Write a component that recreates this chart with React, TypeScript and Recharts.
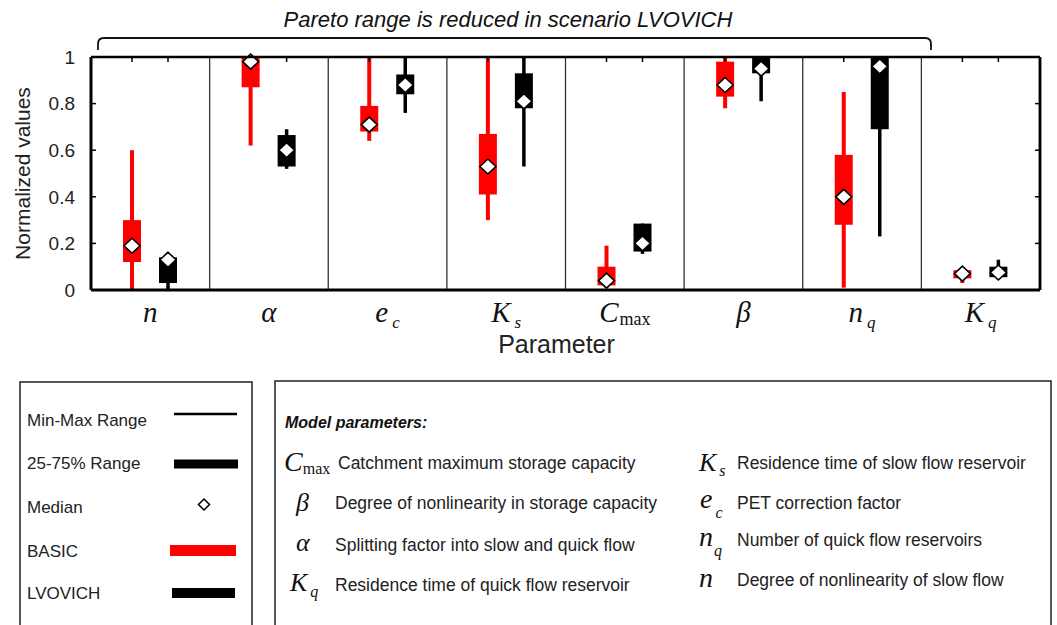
import React from 'react';
import { ComposedChart, Bar, XAxis, YAxis, ReferenceLine } from 'recharts';

// ---- Data ----
const params = ['n', 'alpha', 'ec', 'Ks', 'Cmax', 'beta', 'nq', 'Kq'];
const tickMain = ['n', 'α', 'e', 'K', 'C', 'β', 'n', 'K'];
const tickSub = ['', '', 'c', 's', 'max', '', 'q', 'q'];

const basicMin = [0.0, 0.62, 0.64, 0.3, 0.01, 0.78, 0.01, 0.03];
const basicQ1 = [0.12, 0.87, 0.68, 0.41, 0.02, 0.83, 0.28, 0.05];
const basicMed = [0.19, 0.98, 0.71, 0.53, 0.04, 0.88, 0.4, 0.07];
const basicQ3 = [0.3, 1.0, 0.79, 0.67, 0.1, 0.98, 0.58, 0.085];
const basicMax = [0.6, 1.0, 1.0, 1.0, 0.19, 1.0, 0.85, 0.085];

const lvMin = [0.0, 0.52, 0.76, 0.53, 0.155, 0.81, 0.23, 0.045];
const lvQ1 = [0.03, 0.53, 0.84, 0.78, 0.165, 0.93, 0.69, 0.055];
const lvMed = [0.13, 0.6, 0.88, 0.81, 0.2, 0.95, 0.96, 0.075];
const lvQ3 = [0.14, 0.665, 0.925, 0.93, 0.285, 1.0, 1.0, 0.1];
const lvMax = [0.14, 0.69, 1.0, 1.0, 0.285, 1.0, 1.0, 0.13];

const yTicks = [0, 0.2, 0.4, 0.6, 0.8, 1];

const data = params.map((p, i) => ({
  param: p,
  bW: [basicMin[i], basicMax[i]],
  lW: [lvMin[i], lvMax[i]],
  bB: [basicQ1[i], basicQ3[i]],
  lB: [lvQ1[i], lvQ3[i]],
  bM: basicMed[i],
  lM: lvMed[i],
}));

const separators = params.slice(1);
const lastParam = params[params.length - 1];

const RED = '#ff0000';
const SANS = 'Liberation Sans, Arial, sans-serif';
const SERIF = 'Liberation Serif, Times New Roman, serif';

// ---- Shapes ----
const whiskerShape = (color: string, w: number) => (props: any) => {
  const { x, y, width, height, background } = props;
  const cx = x + width / 2;
  const top = Math.min(y, y + height);
  const h = Math.abs(height);
  return (
    <g>
      <rect x={cx - w / 2} y={top} width={w} height={h} fill={color} />
      {background ? (
        <line x1={cx} x2={cx} y1={background.y} y2={background.y + 5} stroke="#000" strokeWidth={1.5} />
      ) : null}
    </g>
  );
};

const boxShape = (color: string) => (props: any) => {
  const { x, y, width, height } = props;
  const top = Math.min(y, y + height);
  const h = Math.abs(height);
  return <rect x={x} y={top} width={width} height={h} fill={color} />;
};

const diamondShape = (props: any) => {
  const { x, y, width } = props;
  const cx = x + width / 2;
  const rx = 8;
  const ry = 7.5;
  return (
    <path
      d={`M${cx},${y - ry} L${cx + rx},${y} L${cx},${y + ry} L${cx - rx},${y} Z`}
      fill="#fff"
      stroke="#000"
      strokeWidth={1.6}
    />
  );
};

const ParamTick = (props: any) => {
  const { x, y, payload } = props;
  const i = params.indexOf(payload.value);
  const main = tickMain[i];
  const sub = tickSub[i];
  const upright = sub === 'max';
  return (
    <text x={x} y={y + 32} textAnchor="middle" fontFamily={SERIF} fill="#111">
      <tspan fontStyle="italic" fontSize={29}>{main}</tspan>
      {sub ? (
        <tspan fontStyle={upright ? 'normal' : 'italic'} fontSize={upright ? 18 : 17} dx={upright ? 1 : 4} dy={upright ? 3 : 6}>
          {sub}
        </tspan>
      ) : null}
    </text>
  );
};

const YLabel = (props: any) => {
  const vb = props.viewBox || { x: 0, y: 57, width: 91, height: 233 };
  return (
    <text
      transform={`translate(${vb.x + 30},${vb.y + vb.height / 2}) rotate(-90)`}
      textAnchor="middle"
      fontSize={21}
      fill="#222"
      fontFamily={SANS}
    >
      Normalized values
    </text>
  );
};

const XLabel = (props: any) => {
  const vb = props.viewBox || { x: 91, y: 290, width: 949, height: 70 };
  return (
    <text x={vb.x + vb.width / 2 - 9} y={vb.y + 63} textAnchor="middle" fontSize={25} fill="#222" fontFamily={SANS}>
      Parameter
    </text>
  );
};

// ---- Legend pieces ----
const Sym = ({ x, y, main, sub, size = 26, subDx = 2, subDy = 5, upright = false }: any) => (
  <text x={x} y={y} fontFamily={SERIF} fill="#111">
    <tspan fontStyle="italic" fontSize={size}>{main}</tspan>
    {sub ? (
      <tspan fontStyle={upright ? 'normal' : 'italic'} fontSize={16} dx={subDx} dy={subDy}>
        {sub}
      </tspan>
    ) : null}
  </text>
);

const Desc = ({ x, y, children }: any) => (
  <text x={x} y={y} fontFamily={SANS} fontSize={17.5} fill="#222">
    {children}
  </text>
);

const EmptyTick = () => <g />;

export default function App() {
  return (
    <div style={{ position: 'absolute', left: 0, top: 0, width: 1057, height: 625, overflow: 'hidden', background: '#fff' }}>
      <div style={{ position: 'absolute', left: 0, top: 0 }}>
        <ComposedChart width={1057} height={370} data={data} margin={{ top: 57, right: 17, bottom: 10, left: 0 }} barGap={18}>
          <XAxis
            xAxisId="m"
            dataKey="param"
            height={70}
            interval={0}
            tickLine={false}
            tickSize={0}
            tickMargin={0}
            axisLine={{ stroke: '#000', strokeWidth: 3 }}
            tick={<ParamTick />}
            label={{ content: (p: any) => <XLabel {...p} /> }}
          />
          <XAxis xAxisId="w" dataKey="param" hide height={0} />
          <XAxis
            xAxisId="t"
            dataKey="param"
            orientation="top"
            mirror
            height={0}
            tick={<EmptyTick />}
            tickLine={false}
            axisLine={{ stroke: '#000', strokeWidth: 2.5 }}
          />
          <YAxis
            domain={[0, 1]}
            ticks={yTicks}
            width={91}
            tickLine={false}
            tickSize={6}
            tickMargin={10}
            axisLine={{ stroke: '#000', strokeWidth: 3 }}
            tick={{ fontSize: 19, fill: '#222', fontFamily: SANS }}
            label={{ content: (p: any) => <YLabel {...p} /> }}
          />
          <YAxis
            yAxisId="yl"
            mirror
            domain={[0, 1]}
            ticks={yTicks}
            tick={<EmptyTick />}
            tickSize={5}
            tickLine={{ stroke: '#000', strokeWidth: 1.5 }}
            axisLine={false}
          />
          <YAxis
            yAxisId="yr"
            orientation="right"
            mirror
            domain={[0, 1]}
            ticks={yTicks}
            tick={<EmptyTick />}
            tickSize={5}
            tickLine={{ stroke: '#000', strokeWidth: 1.5 }}
            axisLine={{ stroke: '#000', strokeWidth: 2.5 }}
          />

          {separators.map((p) => (
            <ReferenceLine key={p} xAxisId="m" x={p} position="start" stroke="#333" strokeWidth={1.3} />
          ))}

          <Bar xAxisId="w" yAxisId="yl" dataKey="bW" barSize={18} shape={whiskerShape(RED, 4)} isAnimationActive={false} />
          <Bar xAxisId="w" yAxisId="yl" dataKey="lW" barSize={18} shape={whiskerShape('#000', 3.5)} isAnimationActive={false} />
          <Bar xAxisId="t" yAxisId="yr" dataKey="bB" barSize={18} shape={boxShape(RED)} isAnimationActive={false} />
          <Bar xAxisId="t" yAxisId="yr" dataKey="lB" barSize={18} shape={boxShape('#000')} isAnimationActive={false} />
          <Bar xAxisId="m" dataKey="bM" barSize={18} shape={diamondShape} isAnimationActive={false} />
          <Bar xAxisId="m" dataKey="lM" barSize={18} shape={diamondShape} isAnimationActive={false} />

          <ReferenceLine xAxisId="m" y={1} stroke="#000" strokeWidth={2.5} />
          <ReferenceLine xAxisId="m" x={lastParam} position="end" stroke="#000" strokeWidth={2.5} />
        </ComposedChart>
      </div>

      <svg width={1057} height={625} style={{ position: 'absolute', left: 0, top: 0, pointerEvents: 'none' }}>
        {/* Title and brace */}
        <text x={508} y={27} textAnchor="middle" fontFamily={SANS} fontStyle="italic" fontSize={22} fill="#111">
          Pareto range is reduced in scenario LVOVICH
        </text>
        <path d="M98,50 L98,44 Q98,38 104,38 L925,38 Q931,38 931,44 L931,50" fill="none" stroke="#111" strokeWidth={1.8} />

        {/* Left legend box */}
        <rect x={20} y={382} width={232} height={270} fill="none" stroke="#222" strokeWidth={1.5} />
        <text x={27} y={426} fontFamily={SANS} fontSize={17} fill="#222">Min-Max Range</text>
        <line x1={174} x2={237} y1={414} y2={414} stroke="#000" strokeWidth={2.5} />
        <text x={27} y={469} fontFamily={SANS} fontSize={17} fill="#222">25-75% Range</text>
        <rect x={174} y={459.5} width={64} height={9} fill="#000" />
        <text x={27} y={513} fontFamily={SANS} fontSize={17} fill="#222">Median</text>
        <path d="M204,499 L209.5,504.5 L204,510 L198.5,504.5 Z" fill="#fff" stroke="#000" strokeWidth={1.5} />
        <text x={27} y={557} fontFamily={SANS} fontSize={17} fill="#222">BASIC</text>
        <rect x={170} y={545} width={66} height={11} fill={RED} />
        <text x={27} y={599} fontFamily={SANS} fontSize={17} fill="#222">LVOVICH</text>
        <rect x={172} y={588} width={63} height={10} fill="#000" />

        {/* Right legend box */}
        <rect x={275} y={381} width={776} height={270} fill="none" stroke="#222" strokeWidth={1.5} />
        <text x={285} y={428} fontFamily={SANS} fontSize={16} fontWeight="bold" fontStyle="italic" fill="#111">
          Model parameters:
        </text>

        <Sym x={284} y={471} main="C" sub="max" size={28} subDx={0} subDy={3} upright />
        <Desc x={338} y={469}>Catchment maximum storage capacity</Desc>
        <Sym x={296} y={511} main="β" size={26} />
        <Desc x={335} y={509}>Degree of nonlinearity in storage capacity</Desc>
        <Sym x={296} y={551} main="α" size={26} />
        <Desc x={335} y={551}>Splitting factor into slow and quick flow</Desc>
        <Sym x={290} y={591} main="K" sub="q" size={26} subDx={3} subDy={6} />
        <Desc x={335} y={591}>Residence time of quick flow reservoir</Desc>

        <Sym x={699} y={471} main="K" sub="s" size={26} subDx={3} subDy={5} />
        <Desc x={737} y={469}>Residence time of slow flow reservoir</Desc>
        <Sym x={700} y={508} main="e" sub="c" size={28} subDx={3} subDy={10} />
        <Desc x={737} y={509}>PET correction factor</Desc>
        <Sym x={699} y={546} main="n" sub="q" size={28} subDx={1} subDy={10} />
        <Desc x={737} y={546}>Number of quick flow reservoirs</Desc>
        <Sym x={699} y={587} main="n" size={28} />
        <Desc x={737} y={586}>Degree of nonlinearity of slow flow</Desc>
      </svg>
    </div>
  );
}
